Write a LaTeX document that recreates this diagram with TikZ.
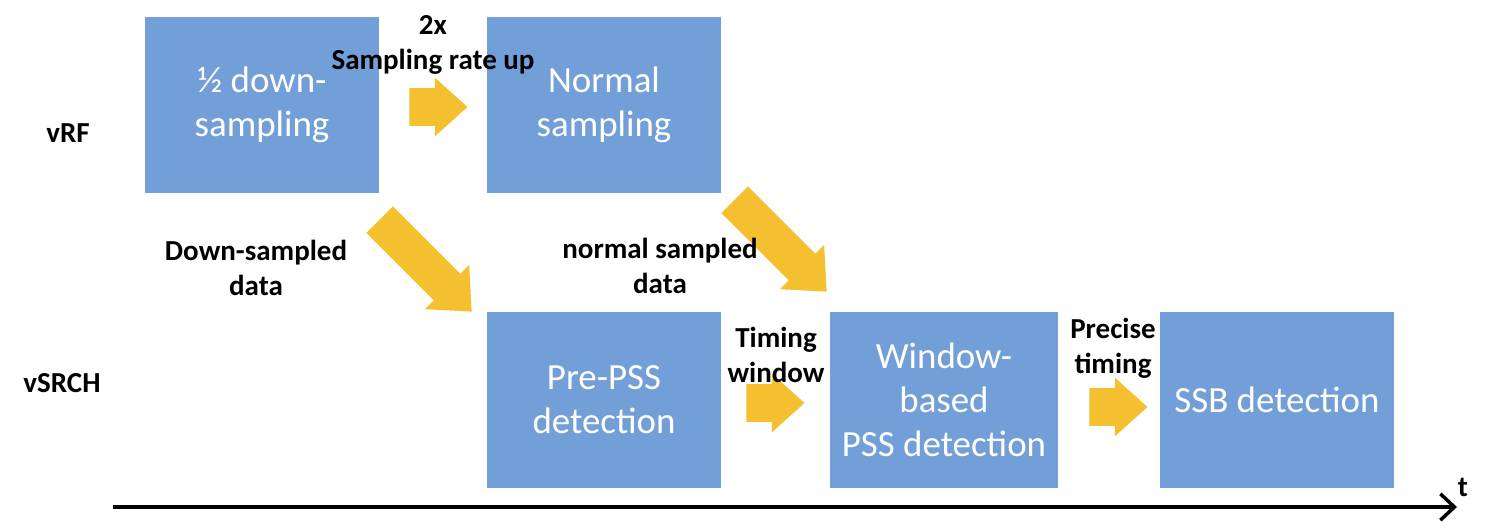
\documentclass[tikz,border=0pt]{standalone}
\usepackage{fontspec}
\setmainfont{Carlito}
\usetikzlibrary{shapes.arrows,arrows.meta}
\definecolor{boxblue}{RGB}{115,159,217}
\definecolor{arrgold}{RGB}{245,192,48}
\tikzset{
  stage/.style   = {fill=boxblue, text=white, align=center, inner sep=0pt,
                    minimum width=4.7cm, minimum height=3.52cm,
                    font=\fontsize{21}{25}\selectfont},
  note/.style    = {align=center, inner sep=0pt, font=\fontsize{16.5}{20}\selectfont\bfseries},
  step arrow/.style = {single arrow, fill=arrgold, inner xsep=0pt, inner ysep=0.37cm,
                    minimum height=1.16cm, anchor=tip,
                    single arrow head extend=0.21cm, single arrow tip angle=84},
  feed arrow/.style = {single arrow, fill=arrgold, inner xsep=0pt, inner ysep=0.37cm, rotate=-45,
                    minimum height=2.6cm, anchor=tip,
                    single arrow head extend=0.25cm, single arrow tip angle=84}
}

\begin{document}
\begin{tikzpicture}[x=0.02cm, y=-0.02cm]
  \useasboundingbox (0,0) rectangle (1508,527);
  % rows
  \node[note] (rf)   at (68,133)  {vRF};
  \node[note] (srch) at (62,383)  {vSRCH};
  % vRF stages
  \node[stage] (down) at (262,105) {½ down-\\sampling};
  \node[stage] (norm) at (604,105) {Normal\\sampling};
  % vSRCH stages
  \node[stage] (pre)  at (604,400) {Pre-PSS\\detection};
  \node[stage, minimum width=4.56cm] (win) at (944,400) {Window-\\based\\PSS detection};
  \node[stage] (ssb)  at (1277,400) {SSB detection};
  % block arrows (placed by their tips)
  \node[step arrow] (up)   at (468,107) {};
  \node[step arrow] (tw)   at (805,403) {};
  \node[step arrow] (pt)   at (1148,407) {};
  \node[feed arrow] (dsd)  at (472,312) {};
  \node[feed arrow] (nsd)  at (827,292) {};
  % labels
  \node[note] (rate)   at (433,45)  {2x\\Sampling rate up};
  \node[note] (dsdata) at (256,268) {Down-sampled\\data};
  \node[note] (nsdata) at (660,266) {normal sampled\\data};
  \node[note] (twin)   at (776,355) {Timing\\window};
  \node[note] (ptime)  at (1113,348) {Precise\\timing};
  % time axis
  \coordinate (t0) at (113,507);
  \coordinate (t1) at (1457,507);
  \draw[line width=2pt, -{Straight Barb[length=8pt,width=15pt]}] (t0) -- (t1);
  \node[note] (t) at (1463,487) {t};
\end{tikzpicture}
\end{document}
